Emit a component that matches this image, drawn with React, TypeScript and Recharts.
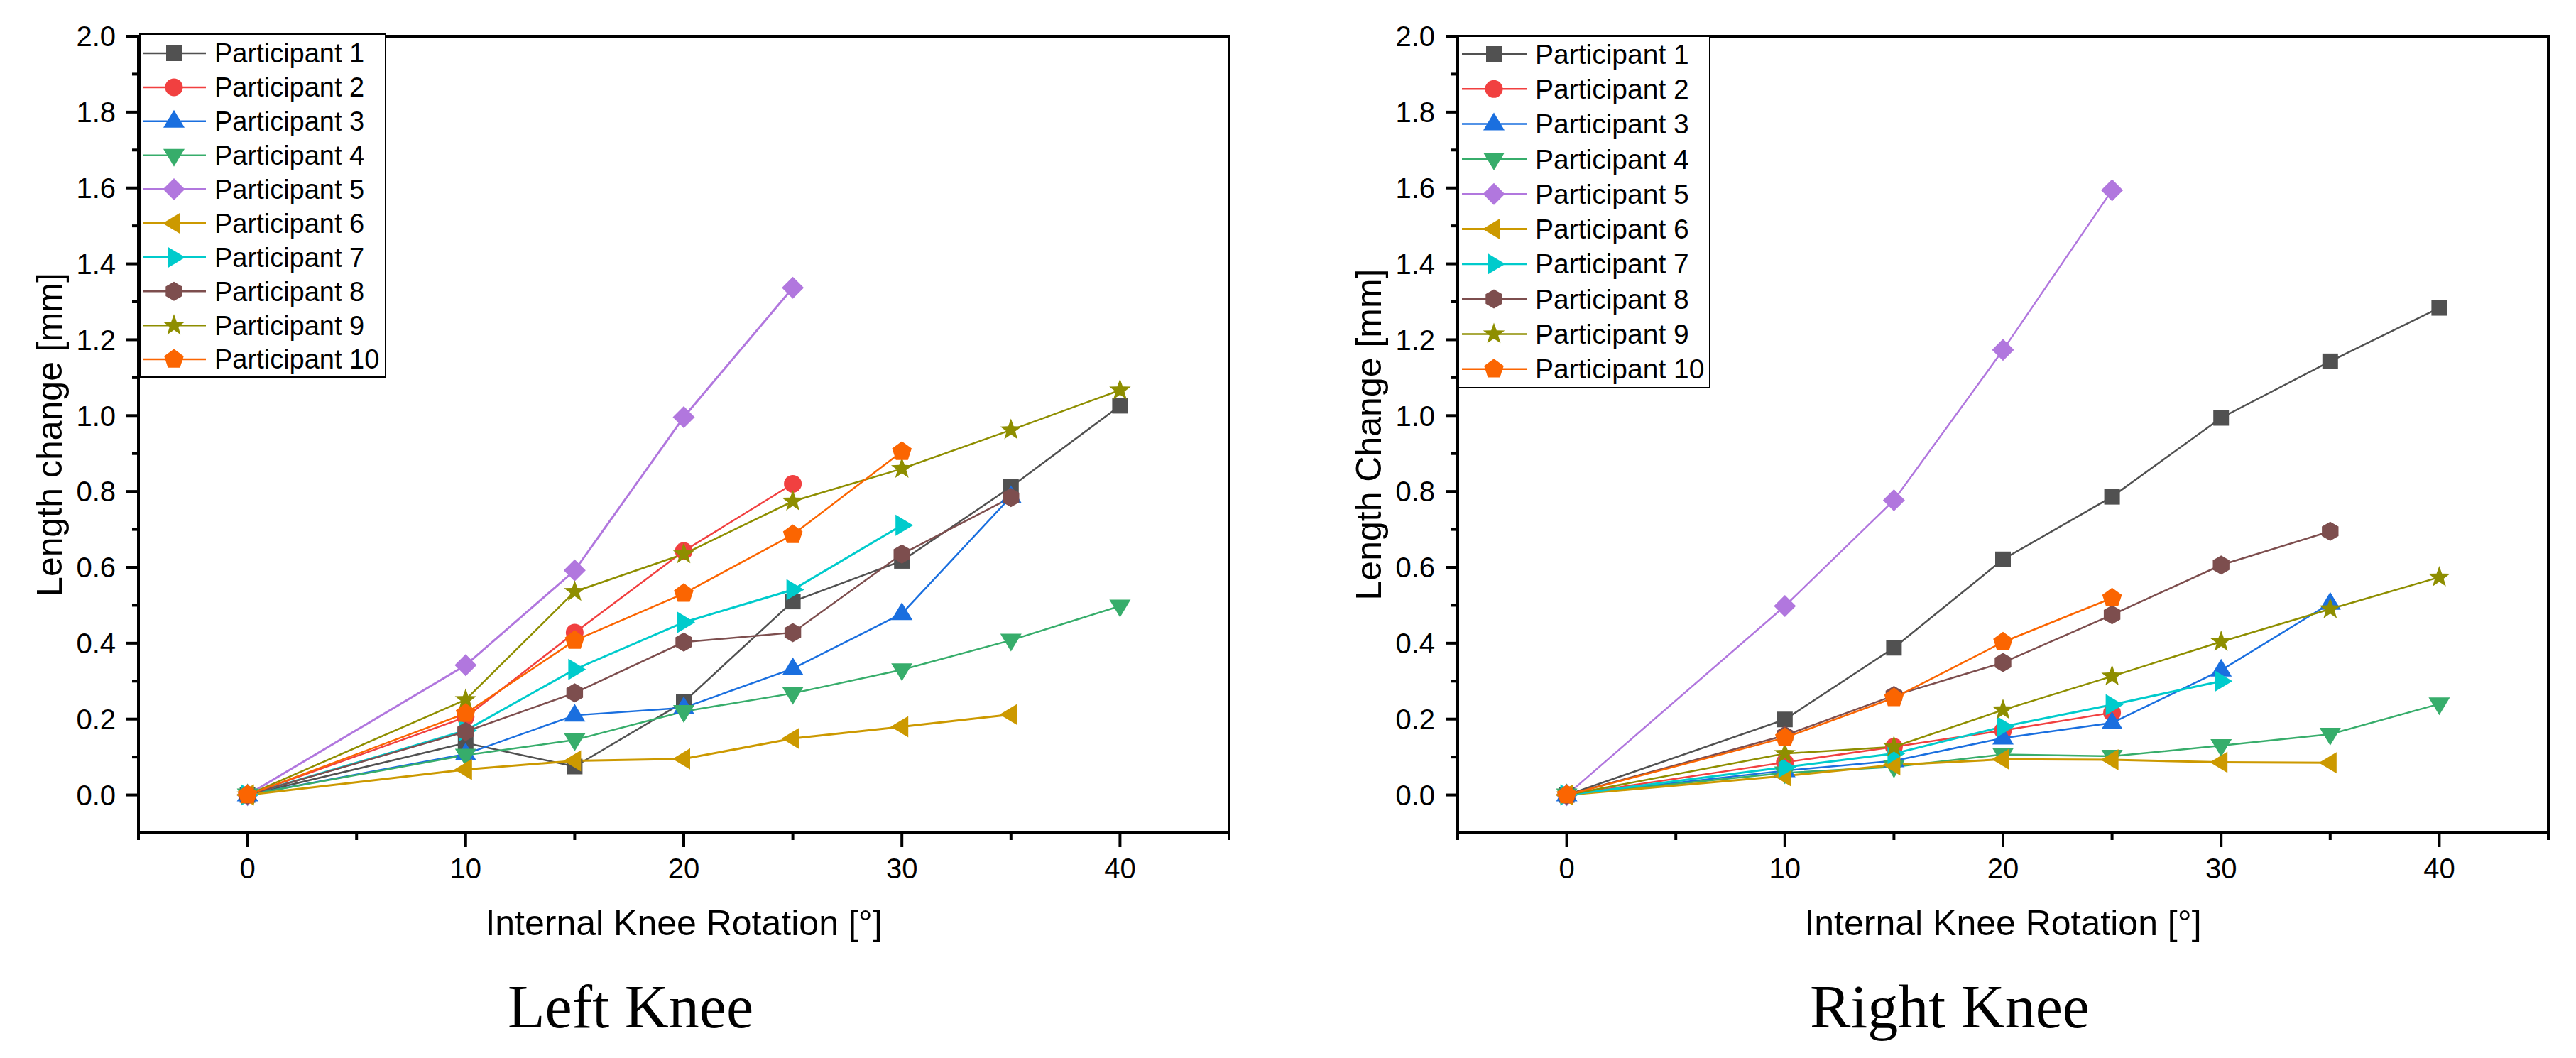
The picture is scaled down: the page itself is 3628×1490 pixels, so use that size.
import React from 'react';
import { LineChart, Line, XAxis, YAxis, ReferenceLine, Legend } from 'recharts';

// ---------- data ----------
const angles = [0, 10, 15, 20, 25, 30, 35, 40];
const xTicks = [-5, 0, 5, 10, 15, 20, 25, 30, 35, 40, 45];
const yTicks = [0, 0.1, 0.2, 0.3, 0.4, 0.5, 0.6, 0.7, 0.8, 0.9, 1.0, 1.1, 1.2, 1.3, 1.4, 1.5, 1.6, 1.7, 1.8, 1.9, 2.0];
const participants = [
  'Participant 1', 'Participant 2', 'Participant 3', 'Participant 4', 'Participant 5',
  'Participant 6', 'Participant 7', 'Participant 8', 'Participant 9', 'Participant 10',
];
const colors = ['#515151', '#F14040', '#1A6FDF', '#37AD6B', '#B177DE', '#CC9900', '#00CBCC', '#7D4E4E', '#8E8E00', '#FB6501'];
const shapes = ['square', 'circle', 'triUp', 'triDown', 'diamond', 'triLeft', 'triRight', 'hexagon', 'star', 'pentagon'];

const leftP1 = [0, 0.137, 0.075, 0.245, 0.51, 0.617, 0.812, 1.026];
const leftP2 = [0, 0.205, 0.428, 0.643, 0.82];
const leftP3 = [0, 0.108, 0.21, 0.23, 0.333, 0.478, 0.786];
const leftP4 = [0, 0.105, 0.145, 0.22, 0.268, 0.33, 0.408, 0.498];
const leftP5 = [0, 0.342, 0.592, 0.996, 1.337];
const leftP6 = [0, 0.067, 0.09, 0.095, 0.149, 0.18, 0.212];
const leftP7 = [0, 0.17, 0.331, 0.455, 0.541, 0.711];
const leftP8 = [0, 0.167, 0.269, 0.403, 0.428, 0.635, 0.784];
const leftP9 = [0, 0.251, 0.536, 0.635, 0.774, 0.86, 0.962, 1.067];
const leftP10 = [0, 0.215, 0.407, 0.531, 0.686, 0.905];

const rightP1 = [0, 0.199, 0.388, 0.621, 0.786, 0.994, 1.143, 1.284];
const rightP2 = [0, 0.086, 0.127, 0.17, 0.217];
const rightP3 = [0, 0.064, 0.09, 0.15, 0.19, 0.329, 0.505];
const rightP4 = [0, 0.058, 0.074, 0.107, 0.102, 0.13, 0.16, 0.24];
const rightP5 = [0, 0.498, 0.777, 1.173, 1.594];
const rightP6 = [0, 0.05, 0.079, 0.094, 0.093, 0.086, 0.085];
const rightP7 = [0, 0.073, 0.109, 0.18, 0.238, 0.3];
const rightP8 = [0, 0.157, 0.262, 0.349, 0.475, 0.606, 0.695];
const rightP9 = [0, 0.109, 0.127, 0.224, 0.313, 0.404, 0.49, 0.574];
const rightP10 = [0, 0.151, 0.256, 0.403, 0.519];

const leftSeries = [leftP1, leftP2, leftP3, leftP4, leftP5, leftP6, leftP7, leftP8, leftP9, leftP10];
const rightSeries = [rightP1, rightP2, rightP3, rightP4, rightP5, rightP6, rightP7, rightP8, rightP9, rightP10];

// ---------- styling ----------
const SANS = '"Liberation Sans", Arial, sans-serif';
const SERIF = '"Liberation Serif", "Times New Roman", serif';
const CHART_W = 1800;
const CHART_H = 1490;
const MARGIN = { top: 51, right: 69, bottom: 167, left: 0 };
const X_AXIS_H = 150;
const Y_AXIS_W = 195;

function Marker({ cx, cy, shape, color }: { cx: number; cy: number; shape: string; color: string }) {
  const poly = (pts: number[][]) => (
    <polygon points={pts.map((p) => `${cx + p[0]},${cy + p[1]}`).join(' ')} fill={color} />
  );
  const regular = (n: number, r: number, start: number) => {
    const pts: number[][] = [];
    for (let k = 0; k < n; k++) {
      const a = ((start + (360 / n) * k) * Math.PI) / 180;
      pts.push([r * Math.cos(a), r * Math.sin(a)]);
    }
    return poly(pts);
  };
  switch (shape) {
    case 'square':
      return <rect x={cx - 11} y={cy - 11} width={22} height={22} fill={color} />;
    case 'circle':
      return <circle cx={cx} cy={cy} r={12.5} fill={color} />;
    case 'triUp':
      return poly([[0, -16], [15, 9], [-15, 9]]);
    case 'triDown':
      return poly([[-15, -9], [15, -9], [0, 16]]);
    case 'triLeft':
      return poly([[-16, 0], [9, -15], [9, 15]]);
    case 'triRight':
      return poly([[16, 0], [-9, -15], [-9, 15]]);
    case 'diamond':
      return poly([[0, -15.5], [15.5, 0], [0, 15.5], [-15.5, 0]]);
    case 'hexagon':
      return regular(6, 13.5, -90);
    case 'pentagon':
      return regular(5, 14.5, -90);
    case 'star': {
      const pts: number[][] = [];
      for (let k = 0; k < 10; k++) {
        const r = k % 2 === 0 ? 16 : 6.5;
        const a = ((-90 + 36 * k) * Math.PI) / 180;
        pts.push([r * Math.cos(a), r * Math.sin(a)]);
      }
      return poly(pts);
    }
    default:
      return null;
  }
}

const XTick = (props: any) => {
  const { x, y, payload } = props;
  const v = payload.value;
  const major = v % 10 === 0;
  return (
    <g>
      <line x1={x} x2={x} y1={y} y2={y + (major ? 20 : 10)} stroke="#000" strokeWidth={4} />
      {major && (
        <text x={x} y={y + 64} textAnchor="middle" fontSize={40} fontFamily={SANS} fill="#000">
          {String(v)}
        </text>
      )}
    </g>
  );
};

const YTick = (props: any) => {
  const { x, y, payload } = props;
  const v = payload.value;
  const major = Math.round(v * 10) % 2 === 0;
  return (
    <g>
      <line x1={x} x2={x - (major ? 17 : 9)} y1={y} y2={y} stroke="#000" strokeWidth={4} />
      {major && (
        <text x={x - 32} y={y + 14.3} textAnchor="end" fontSize={40} fontFamily={SANS} fill="#000">
          {v.toFixed(1)}
        </text>
      )}
    </g>
  );
};

type LegendCfg = {
  left: number; top: number; width: number; height: number;
  rowStart: number; rowStep: number; lineX1: number; lineX2: number;
  markerX: number; textX: number; fontSize: number;
};

function LegendBox({ cfg, widths }: { cfg: LegendCfg; widths: number[] }) {
  return (
    <svg width={cfg.width} height={cfg.height} style={{ display: 'block' }}>
      <rect x={1} y={1} width={cfg.width - 2} height={cfg.height - 2} fill="#fff" stroke="#000" strokeWidth={2} />
      {participants.map((name, i) => {
        const cy = cfg.rowStart + i * cfg.rowStep;
        return (
          <g key={name}>
            <line x1={cfg.lineX1} x2={cfg.lineX2} y1={cy} y2={cy} stroke={colors[i]} strokeWidth={widths[i]} />
            <Marker cx={cfg.markerX} cy={cy} shape={shapes[i]} color={colors[i]} />
            <text x={cfg.textX} y={cy + 0.35 * cfg.fontSize} fontSize={cfg.fontSize} fontFamily={SANS} fill="#000">
              {name}
            </text>
          </g>
        );
      })}
    </svg>
  );
}

function KneeChart({
  series, yLabel, title, legend, widths,
}: { series: number[][]; yLabel: string; title: string; legend: LegendCfg; widths: number[] }) {
  const axisLine = { stroke: '#000', strokeWidth: 4, strokeLinecap: 'square' as const };
  const xLabel = (p: any) => {
    const vb = p && p.viewBox ? p.viewBox : { x: Y_AXIS_W, y: CHART_H - MARGIN.bottom - X_AXIS_H, width: CHART_W - MARGIN.right - Y_AXIS_W, height: X_AXIS_H };
    const cx = vb.x + vb.width / 2;
    return (
      <g>
        <text x={cx} y={vb.y + 144} textAnchor="middle" fontSize={50} fontFamily={SANS} fill="#000">
          Internal Knee Rotation [°]
        </text>
        <text x={cx - 75} y={vb.y + 274} textAnchor="middle" fontSize={86} fontFamily={SERIF} fill="#000">
          {title}
        </text>
      </g>
    );
  };
  const yLabelFn = (p: any) => {
    const vb = p && p.viewBox ? p.viewBox : { x: 0, y: MARGIN.top, width: Y_AXIS_W, height: CHART_H - MARGIN.top - MARGIN.bottom - X_AXIS_H };
    const bx = vb.x + vb.width - 108;
    const cy = vb.y + vb.height / 2;
    return (
      <text x={bx} y={cy} transform={`rotate(-90, ${bx}, ${cy})`} textAnchor="middle" fontSize={50} fontFamily={SANS} fill="#000">
        {yLabel}
      </text>
    );
  };
  return (
    <LineChart width={CHART_W} height={CHART_H} margin={MARGIN}>
      <XAxis
        type="number"
        dataKey="x"
        domain={[-5, 45]}
        ticks={xTicks}
        interval={0}
        allowDataOverflow
        tickSize={0}
        tickMargin={0}
        tickLine={false}
        tick={XTick}
        axisLine={axisLine}
        height={X_AXIS_H}
        label={{ content: xLabel }}
      />
      <YAxis
        type="number"
        domain={[-0.1, 2]}
        ticks={yTicks}
        interval={0}
        allowDataOverflow
        tickSize={0}
        tickMargin={0}
        tickLine={false}
        tick={YTick}
        axisLine={axisLine}
        width={Y_AXIS_W}
        label={{ content: yLabelFn }}
      />
      <ReferenceLine y={2} stroke="#000" strokeWidth={4} strokeLinecap="square" />
      <ReferenceLine x={45} stroke="#000" strokeWidth={4} strokeLinecap="square" />
      {series.map((vals, i) => (
        <Line
          key={participants[i]}
          name={participants[i]}
          data={vals.map((v, j) => ({ x: angles[j], y: v }))}
          dataKey="y"
          type="linear"
          stroke={colors[i]}
          strokeWidth={widths[i]}
          isAnimationActive={false}
          activeDot={false}
          legendType="none"
          dot={(p: any) => (
            <Marker key={`${i}-${p.index}`} cx={p.cx} cy={p.cy} shape={shapes[i]} color={colors[i]} />
          )}
        />
      ))}
      <Legend
        layout="vertical"
        align="center"
        verticalAlign="middle"
        content={() => <LegendBox cfg={legend} widths={widths} />}
        wrapperStyle={{ left: legend.left, top: legend.top, width: legend.width, height: legend.height, position: 'absolute' }}
      />
    </LineChart>
  );
}

const leftLegend: LegendCfg = {
  left: 196, top: 47, width: 348, height: 485,
  rowStart: 28, rowStep: 47.9, lineX1: 5, lineX2: 94, markerX: 49, textX: 106, fontSize: 38,
};
const rightLegend: LegendCfg = {
  left: 195, top: 50, width: 356, height: 497,
  rowStart: 26, rowStep: 49.3, lineX1: 6, lineX2: 97, markerX: 51, textX: 109, fontSize: 39,
};
const leftWidths = [2.5, 2.5, 2.5, 2.5, 3, 3, 3, 2.5, 2.5, 2.5];
const rightWidths = [2.5, 2.5, 2.5, 2.5, 2.5, 3, 3, 2.5, 2.5, 2.5];

export default function App() {
  return (
    <div style={{ position: 'absolute', left: 0, top: 0, width: 3628, height: 1490, background: '#fff' }}>
      <div style={{ position: 'absolute', left: 0, top: 0 }}>
        <KneeChart series={leftSeries} yLabel="Length change [mm]" title="Left Knee" legend={leftLegend} widths={leftWidths} />
      </div>
      <div style={{ position: 'absolute', left: 1858, top: 0 }}>
        <KneeChart series={rightSeries} yLabel="Length Change [mm]" title="Right Knee" legend={rightLegend} widths={rightWidths} />
      </div>
    </div>
  );
}
